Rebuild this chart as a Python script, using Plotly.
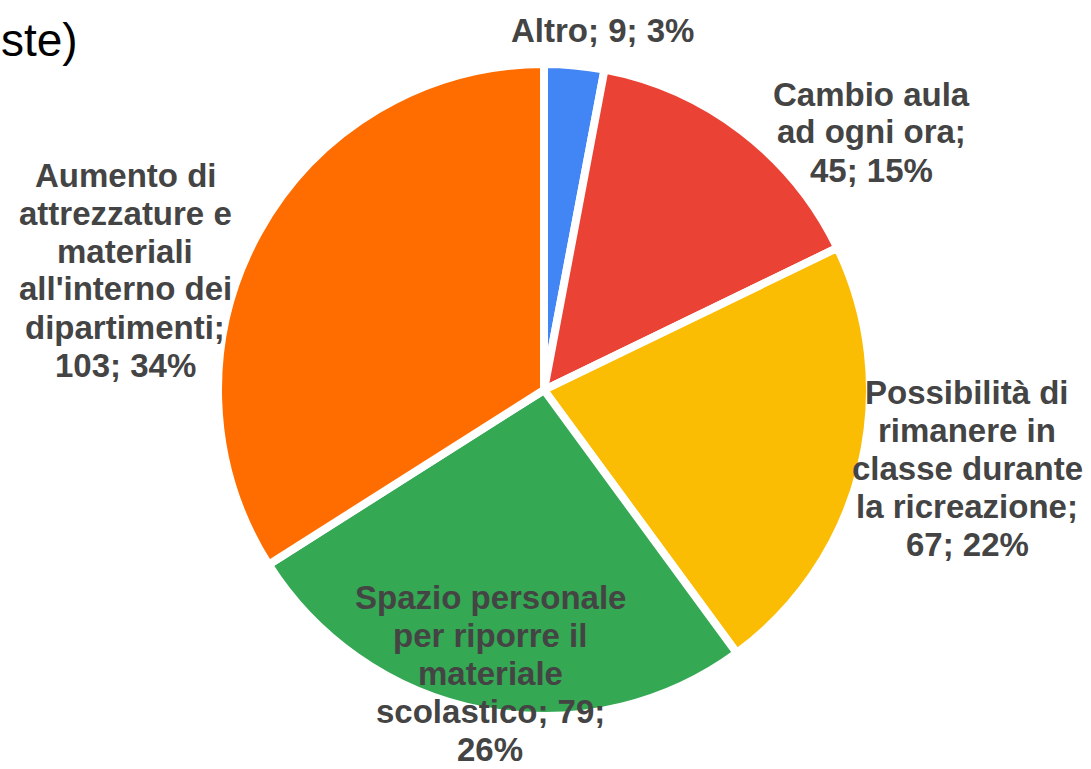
import plotly.graph_objects as go

# Survey answers: category, count
categories = [
    "Altro",
    "Cambio aula ad ogni ora",
    "Possibilità di rimanere in classe durante la ricreazione",
    "Spazio personale per riporre il materiale scolastico",
    "Aumento di attrezzature e materiali all'interno dei dipartimenti",
]
counts = [9, 45, 67, 79, 103]
colors = ["#4285F4", "#EA4335", "#FBBC04", "#34A853", "#FF6D01"]

# Label layout: max characters per wrapped line and block centre (px)
wrap_widths = [12, 12, 16, 16, 16]
label_centers = [(603, 31), (871, 132), (967, 468), (490, 673), (125, 270)]

W, H = 1091, 769
FONT_SIZE = 33
LINE_PITCH = 38
LABEL_FONT = dict(family="Liberation Sans, Arial, sans-serif", size=FONT_SIZE, color="#444444")

# Pie geometry (px)
cx, cy, r = 544, 390, 326


def wrap(text, width):
    lines, cur = [], ""
    for word in text.split(" "):
        if not cur:
            cur = word
        elif len(cur) + 1 + len(word) <= width:
            cur += " " + word
        else:
            lines.append(cur)
            cur = word
    if cur:
        lines.append(cur)
    return lines


total = sum(counts)
fig = go.Figure(
    go.Pie(
        labels=categories,
        values=counts,
        sort=False,
        direction="clockwise",
        rotation=0,
        marker=dict(colors=colors, line=dict(color="white", width=8)),
        textinfo="none",
        hoverinfo="label+value+percent",
        showlegend=False,
        domain=dict(x=[(cx - r) / W, (cx + r) / W], y=[1 - (cy + r) / H, 1 - (cy - r) / H]),
    )
)

annotations = []
for cat, val, width, (lx, ly) in zip(categories, counts, wrap_widths, label_centers):
    pct = round(val / total * 100)
    lines = wrap(f"{cat}; {val}; {pct}%", width)
    n = len(lines)
    for i, line in enumerate(lines):
        y_px = ly + (i - (n - 1) / 2) * LINE_PITCH
        annotations.append(
            dict(
                text=f"<b>{line}</b>",
                x=lx / W,
                y=1 - y_px / H,
                xref="paper",
                yref="paper",
                xanchor="center",
                yanchor="middle",
                showarrow=False,
                font=LABEL_FONT,
            )
        )

# Tail of the chart title
annotations.append(
    dict(
        text="ste)",
        x=0,
        y=1 - 40 / H,
        xref="paper",
        yref="paper",
        xanchor="left",
        yanchor="middle",
        showarrow=False,
        borderpad=0,
        font=dict(family="Liberation Sans, Arial, sans-serif", size=46, color="#000000"),
    )
)

fig.update_layout(
    width=W,
    height=H,
    margin=dict(l=0, r=0, t=0, b=0),
    paper_bgcolor="white",
    plot_bgcolor="white",
    annotations=annotations,
)

fig.write_html("out.html")
